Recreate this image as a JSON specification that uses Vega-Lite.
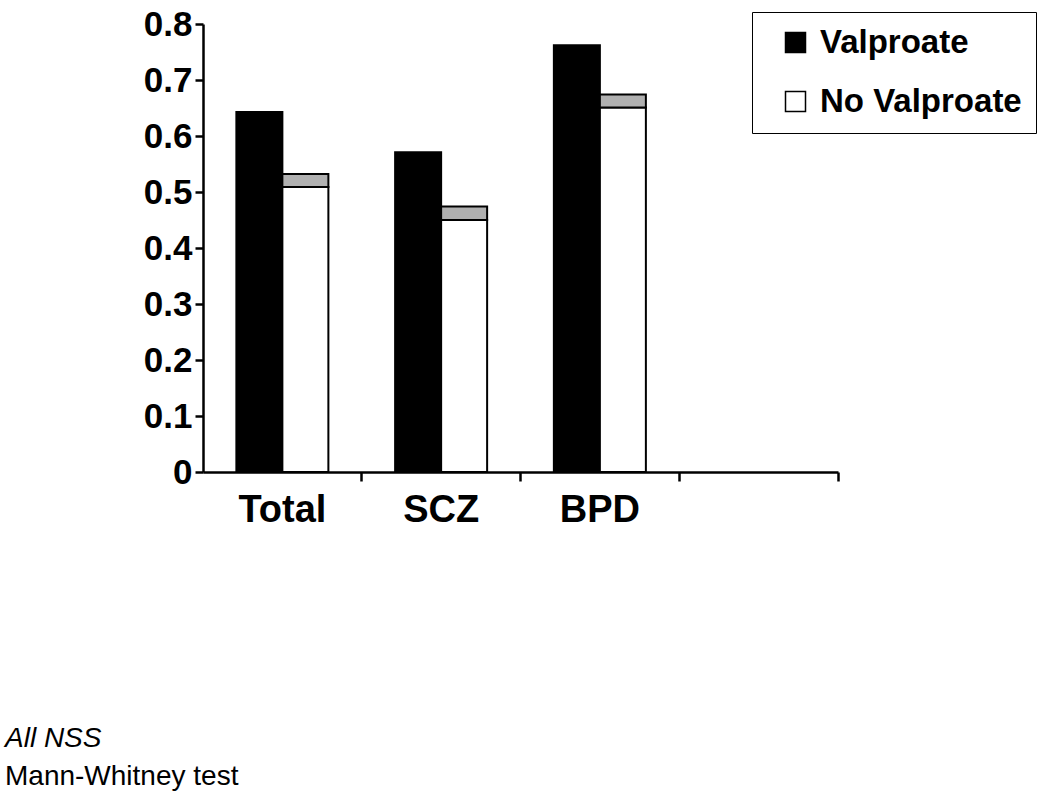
{
  "$schema": "https://vega.github.io/schema/vega-lite/v6.json",
  "autosize": {"type": "none"},
  "padding": {"left": 203, "top": 24, "right": 212, "bottom": 326},
  "width": 635,
  "height": 448,
  "background": "white",
  "config": {"view": {"stroke": null}, "font": "Liberation Sans"},
  "title": {
    "text": "All NSS",
    "subtitle": "Mann-Whitney test",
    "orient": "bottom",
    "anchor": "start",
    "frame": "group",
    "offset": 196,
    "dx": -198,
    "font": "Liberation Sans",
    "fontSize": 28,
    "fontStyle": "italic",
    "fontWeight": "normal",
    "color": "black",
    "subtitleFont": "Liberation Sans",
    "subtitleFontSize": 28,
    "subtitleColor": "black",
    "subtitlePadding": 10
  },
  "datasets": {
    "bars": [
      {"cat": "Total", "group": "Valproate", "value": 0.643},
      {"cat": "Total", "group": "No Valproate", "value": 0.509},
      {"cat": "SCZ", "group": "Valproate", "value": 0.571},
      {"cat": "SCZ", "group": "No Valproate", "value": 0.45},
      {"cat": "BPD", "group": "Valproate", "value": 0.762},
      {"cat": "BPD", "group": "No Valproate", "value": 0.651}
    ],
    "caps": [
      {"cat": "Total", "group": "No Valproate", "low": 0.509, "high": 0.532},
      {"cat": "SCZ", "group": "No Valproate", "low": 0.45, "high": 0.474},
      {"cat": "BPD", "group": "No Valproate", "low": 0.651, "high": 0.674}
    ]
  },
  "layer": [
    {
      "data": {"name": "bars"},
      "mark": {"type": "bar", "stroke": "black", "strokeWidth": 2},
      "encoding": {
        "x": {
          "field": "cat", "type": "nominal",
          "scale": {"domain": ["Total", "SCZ", "BPD", ""], "paddingInner": 0, "paddingOuter": 0},
          "axis": {
            "title": null, "labelAngle": 0, "bandPosition": 1,
            "domainColor": "black", "domainWidth": 2.5, "tickColor": "black", "tickWidth": 2.5, "tickSize": 9,
            "labelFont": "Liberation Sans", "labelFontSize": 38, "labelFontWeight": "bold", "labelColor": "black",
            "labelPadding": 10, "labelBaseline": "top", "grid": false
          }
        },
        "xOffset": {
          "field": "group", "type": "nominal",
          "scale": {"domain": ["Valproate", "No Valproate"], "paddingInner": 0, "paddingOuter": 0.7255}
        },
        "y": {
          "field": "value", "type": "quantitative",
          "scale": {"domain": [0, 0.8], "nice": false, "zero": true},
          "axis": {
            "title": null, "values": [0, 0.1, 0.2, 0.3, 0.4, 0.5, 0.6, 0.7, 0.8], "format": "~g",
            "domainColor": "black", "domainWidth": 2.5, "tickColor": "black", "tickWidth": 2.5, "tickSize": 8,
            "labelFont": "Liberation Sans", "labelFontSize": 35, "labelFontWeight": "bold", "labelColor": "black",
            "labelPadding": 3, "grid": false
          }
        },
        "color": {
          "field": "group", "type": "nominal",
          "scale": {"domain": ["Valproate", "No Valproate"], "range": ["black", "white"]},
          "legend": {
            "title": null,
            "orient": "none",
            "legendX": 549,
            "legendY": -12,
            "symbolType": "square",
            "symbolSize": 400,
            "symbolStrokeColor": "black",
            "symbolStrokeWidth": 1.5,
            "symbolOffset": 13,
            "labelFont": "Liberation Sans",
            "labelFontSize": 33,
            "labelFontWeight": "bold",
            "labelColor": "black",
            "labelOffset": 8,
            "labelLimit": 400,
            "rowPadding": 25,
            "padding": 14,
            "strokeColor": "black",
            "fillColor": "white",
            "cornerRadius": 0
          }
        }
      }
    },
    {
      "data": {"name": "caps"},
      "mark": {"type": "bar", "stroke": "black", "strokeWidth": 2, "fill": "#b0b0b0"},
      "encoding": {
        "x": {"field": "cat", "type": "nominal"},
        "xOffset": {"field": "group", "type": "nominal"},
        "y": {"field": "high", "type": "quantitative"},
        "y2": {"field": "low"}
      }
    }
  ]
}
